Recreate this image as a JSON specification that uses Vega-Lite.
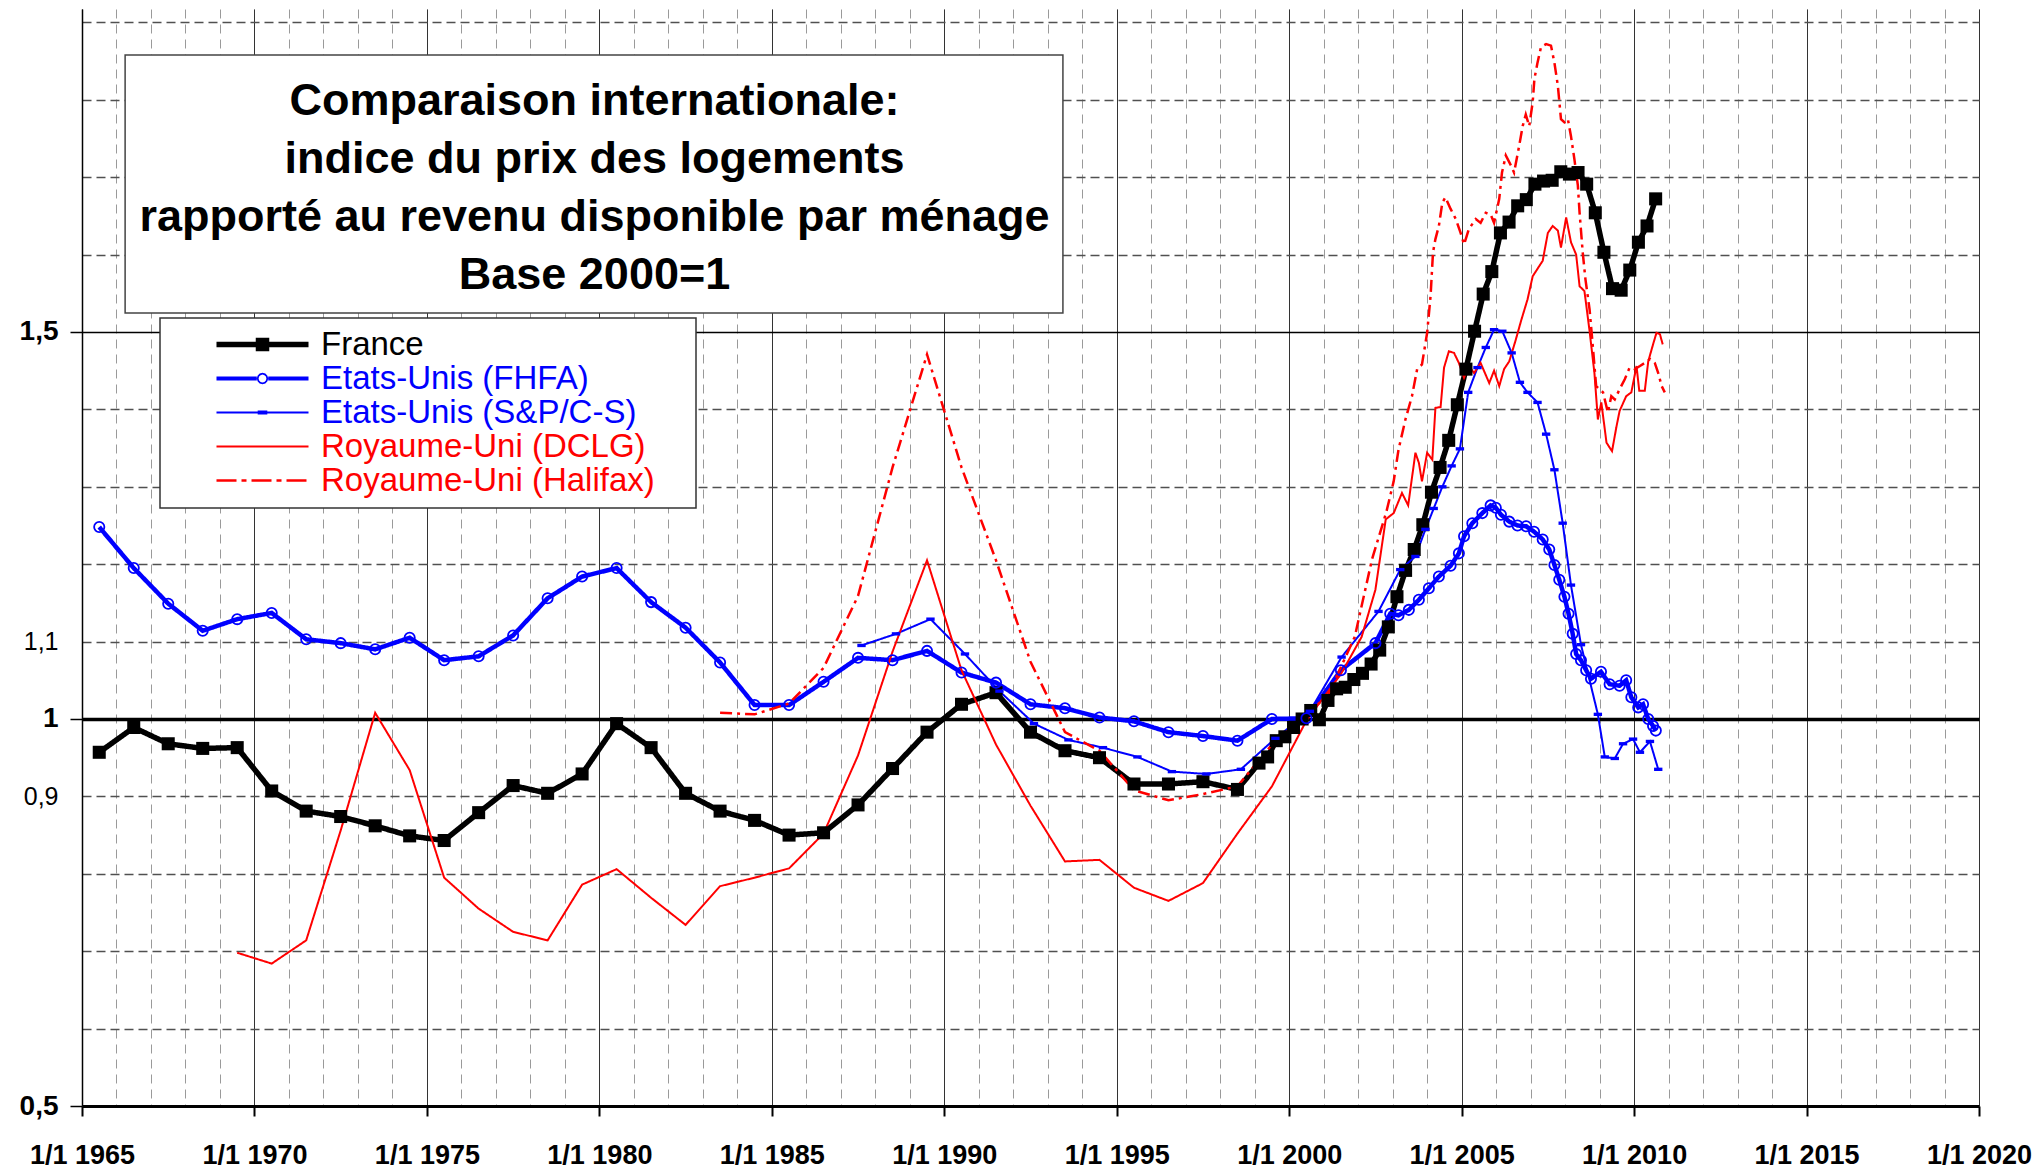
{
  "$schema": "https://vega.github.io/schema/vega-lite/v6.json",
  "width": 1897,
  "height": 1097,
  "autosize": {"type": "none"},
  "padding": {"left": 82, "top": 9, "right": 64, "bottom": 64},
  "background": "white",
  "config": {"view": {"stroke": null}, "font": "Liberation Sans"},
  "title": {
    "text": ["Comparaison internationale:", "indice du prix des logements", "rapporté au revenu disponible par ménage", "Base 2000=1"],
    "anchor": "middle", "frame": "group", "orient": "top", "offset": -289, "dx": -436,
    "fontSize": 45, "fontWeight": "bold", "font": "Liberation Sans", "lineHeight": 58, "color": "black"
  },
  "data": {"values": [
    {"s":"France","t":1965.5,"v":0.957},{"s":"France","t":1966.5,"v":0.989},{"s":"France","t":1967.5,"v":0.968},{"s":"France","t":1968.5,"v":0.962},{"s":"France","t":1969.5,"v":0.963},
    {"s":"France","t":1970.5,"v":0.907},{"s":"France","t":1971.5,"v":0.881},{"s":"France","t":1972.5,"v":0.874},{"s":"France","t":1973.5,"v":0.862},{"s":"France","t":1974.5,"v":0.849},
    {"s":"France","t":1975.5,"v":0.843},{"s":"France","t":1976.5,"v":0.879},{"s":"France","t":1977.5,"v":0.914},{"s":"France","t":1978.5,"v":0.904},{"s":"France","t":1979.5,"v":0.929},
    {"s":"France","t":1980.5,"v":0.994},{"s":"France","t":1981.5,"v":0.963},{"s":"France","t":1982.5,"v":0.904},{"s":"France","t":1983.5,"v":0.881},{"s":"France","t":1984.5,"v":0.869},
    {"s":"France","t":1985.5,"v":0.850},{"s":"France","t":1986.5,"v":0.853},{"s":"France","t":1987.5,"v":0.889},{"s":"France","t":1988.5,"v":0.936},{"s":"France","t":1989.5,"v":0.983},
    {"s":"France","t":1990.5,"v":1.019},{"s":"France","t":1991.5,"v":1.034},{"s":"France","t":1992.5,"v":0.983},{"s":"France","t":1993.5,"v":0.959},{"s":"France","t":1994.5,"v":0.950},
    {"s":"France","t":1995.5,"v":0.916},{"s":"France","t":1996.5,"v":0.916},{"s":"France","t":1997.5,"v":0.919},{"s":"France","t":1998.5,"v":0.909},
    {"s":"France","t":1999.125,"v":0.943},{"s":"France","t":1999.375,"v":0.951},{"s":"France","t":1999.625,"v":0.972},{"s":"France","t":1999.875,"v":0.977},
    {"s":"France","t":2000.125,"v":0.989},{"s":"France","t":2000.375,"v":1.000},{"s":"France","t":2000.625,"v":1.011},{"s":"France","t":2000.875,"v":0.999},
    {"s":"France","t":2001.125,"v":1.024},{"s":"France","t":2001.375,"v":1.039},{"s":"France","t":2001.625,"v":1.041},{"s":"France","t":2001.875,"v":1.051},
    {"s":"France","t":2002.125,"v":1.059},{"s":"France","t":2002.375,"v":1.071},{"s":"France","t":2002.625,"v":1.089},{"s":"France","t":2002.875,"v":1.119},
    {"s":"France","t":2003.125,"v":1.158},{"s":"France","t":2003.375,"v":1.192},{"s":"France","t":2003.625,"v":1.219},{"s":"France","t":2003.875,"v":1.251},
    {"s":"France","t":2004.125,"v":1.293},{"s":"France","t":2004.375,"v":1.325},{"s":"France","t":2004.625,"v":1.360},{"s":"France","t":2004.875,"v":1.406},
    {"s":"France","t":2005.125,"v":1.452},{"s":"France","t":2005.375,"v":1.501},{"s":"France","t":2005.625,"v":1.549},{"s":"France","t":2005.875,"v":1.578},
    {"s":"France","t":2006.125,"v":1.628},{"s":"France","t":2006.375,"v":1.642},{"s":"France","t":2006.625,"v":1.663},{"s":"France","t":2006.875,"v":1.671},
    {"s":"France","t":2007.125,"v":1.691},{"s":"France","t":2007.375,"v":1.695},{"s":"France","t":2007.625,"v":1.696},{"s":"France","t":2007.875,"v":1.707},
    {"s":"France","t":2008.125,"v":1.704},{"s":"France","t":2008.375,"v":1.706},{"s":"France","t":2008.625,"v":1.691},{"s":"France","t":2008.875,"v":1.654},
    {"s":"France","t":2009.125,"v":1.603},{"s":"France","t":2009.375,"v":1.556},{"s":"France","t":2009.625,"v":1.554},{"s":"France","t":2009.875,"v":1.580},
    {"s":"France","t":2010.125,"v":1.616},{"s":"France","t":2010.375,"v":1.637},{"s":"France","t":2010.625,"v":1.672},

    {"s":"Etats-Unis (FHFA)","t":1965.5,"v":1.248},{"s":"Etats-Unis (FHFA)","t":1966.5,"v":1.195},{"s":"Etats-Unis (FHFA)","t":1967.5,"v":1.149},{"s":"Etats-Unis (FHFA)","t":1968.5,"v":1.114},
    {"s":"Etats-Unis (FHFA)","t":1969.5,"v":1.129},{"s":"Etats-Unis (FHFA)","t":1970.5,"v":1.137},{"s":"Etats-Unis (FHFA)","t":1971.5,"v":1.103},{"s":"Etats-Unis (FHFA)","t":1972.5,"v":1.098},
    {"s":"Etats-Unis (FHFA)","t":1973.5,"v":1.090},{"s":"Etats-Unis (FHFA)","t":1974.5,"v":1.105},{"s":"Etats-Unis (FHFA)","t":1975.5,"v":1.076},{"s":"Etats-Unis (FHFA)","t":1976.5,"v":1.081},
    {"s":"Etats-Unis (FHFA)","t":1977.5,"v":1.108},{"s":"Etats-Unis (FHFA)","t":1978.5,"v":1.156},{"s":"Etats-Unis (FHFA)","t":1979.5,"v":1.184},{"s":"Etats-Unis (FHFA)","t":1980.5,"v":1.195},
    {"s":"Etats-Unis (FHFA)","t":1981.5,"v":1.151},{"s":"Etats-Unis (FHFA)","t":1982.5,"v":1.118},{"s":"Etats-Unis (FHFA)","t":1983.5,"v":1.073},{"s":"Etats-Unis (FHFA)","t":1984.5,"v":1.018},
    {"s":"Etats-Unis (FHFA)","t":1985.5,"v":1.018},{"s":"Etats-Unis (FHFA)","t":1986.5,"v":1.048},{"s":"Etats-Unis (FHFA)","t":1987.5,"v":1.079},{"s":"Etats-Unis (FHFA)","t":1988.5,"v":1.076},
    {"s":"Etats-Unis (FHFA)","t":1989.5,"v":1.088},{"s":"Etats-Unis (FHFA)","t":1990.5,"v":1.060},{"s":"Etats-Unis (FHFA)","t":1991.5,"v":1.047},{"s":"Etats-Unis (FHFA)","t":1992.5,"v":1.019},
    {"s":"Etats-Unis (FHFA)","t":1993.5,"v":1.014},{"s":"Etats-Unis (FHFA)","t":1994.5,"v":1.002},{"s":"Etats-Unis (FHFA)","t":1995.5,"v":0.997},{"s":"Etats-Unis (FHFA)","t":1996.5,"v":0.983},
    {"s":"Etats-Unis (FHFA)","t":1997.5,"v":0.978},{"s":"Etats-Unis (FHFA)","t":1998.5,"v":0.972},{"s":"Etats-Unis (FHFA)","t":1999.5,"v":1.000},{"s":"Etats-Unis (FHFA)","t":2000.5,"v":1.001},
    {"s":"Etats-Unis (FHFA)","t":2001.5,"v":1.063},{"s":"Etats-Unis (FHFA)","t":2002.5,"v":1.098},{"s":"Etats-Unis (FHFA)","t":2002.93,"v":1.136},{"s":"Etats-Unis (FHFA)","t":2003.17,"v":1.134},
    {"s":"Etats-Unis (FHFA)","t":2003.47,"v":1.141},{"s":"Etats-Unis (FHFA)","t":2003.76,"v":1.154},{"s":"Etats-Unis (FHFA)","t":2004.05,"v":1.169},{"s":"Etats-Unis (FHFA)","t":2004.34,"v":1.184},
    {"s":"Etats-Unis (FHFA)","t":2004.68,"v":1.198},{"s":"Etats-Unis (FHFA)","t":2004.92,"v":1.214},{"s":"Etats-Unis (FHFA)","t":2005.07,"v":1.236},{"s":"Etats-Unis (FHFA)","t":2005.31,"v":1.253},
    {"s":"Etats-Unis (FHFA)","t":2005.6,"v":1.266},{"s":"Etats-Unis (FHFA)","t":2005.84,"v":1.276},{"s":"Etats-Unis (FHFA)","t":2005.99,"v":1.273},{"s":"Etats-Unis (FHFA)","t":2006.14,"v":1.264},
    {"s":"Etats-Unis (FHFA)","t":2006.38,"v":1.255},{"s":"Etats-Unis (FHFA)","t":2006.62,"v":1.250},{"s":"Etats-Unis (FHFA)","t":2006.87,"v":1.249},{"s":"Etats-Unis (FHFA)","t":2007.1,"v":1.242},
    {"s":"Etats-Unis (FHFA)","t":2007.35,"v":1.232},{"s":"Etats-Unis (FHFA)","t":2007.54,"v":1.219},{"s":"Etats-Unis (FHFA)","t":2007.69,"v":1.199},{"s":"Etats-Unis (FHFA)","t":2007.83,"v":1.180},
    {"s":"Etats-Unis (FHFA)","t":2007.98,"v":1.158},{"s":"Etats-Unis (FHFA)","t":2008.1,"v":1.136},{"s":"Etats-Unis (FHFA)","t":2008.22,"v":1.110},{"s":"Etats-Unis (FHFA)","t":2008.32,"v":1.084},
    {"s":"Etats-Unis (FHFA)","t":2008.46,"v":1.076},{"s":"Etats-Unis (FHFA)","t":2008.61,"v":1.063},{"s":"Etats-Unis (FHFA)","t":2008.75,"v":1.052},{"s":"Etats-Unis (FHFA)","t":2009.04,"v":1.061},
    {"s":"Etats-Unis (FHFA)","t":2009.29,"v":1.045},{"s":"Etats-Unis (FHFA)","t":2009.58,"v":1.043},{"s":"Etats-Unis (FHFA)","t":2009.77,"v":1.050},{"s":"Etats-Unis (FHFA)","t":2009.92,"v":1.028},
    {"s":"Etats-Unis (FHFA)","t":2010.12,"v":1.015},{"s":"Etats-Unis (FHFA)","t":2010.26,"v":1.019},{"s":"Etats-Unis (FHFA)","t":2010.41,"v":1.000},{"s":"Etats-Unis (FHFA)","t":2010.55,"v":0.991},
    {"s":"Etats-Unis (FHFA)","t":2010.63,"v":0.985},

    {"s":"Etats-Unis (S&P/C-S)","t":1987.6,"v":1.095},{"s":"Etats-Unis (S&P/C-S)","t":1988.6,"v":1.110},{"s":"Etats-Unis (S&P/C-S)","t":1989.6,"v":1.129},{"s":"Etats-Unis (S&P/C-S)","t":1990.6,"v":1.084},
    {"s":"Etats-Unis (S&P/C-S)","t":1991.6,"v":1.036},{"s":"Etats-Unis (S&P/C-S)","t":1992.6,"v":0.994},{"s":"Etats-Unis (S&P/C-S)","t":1993.6,"v":0.973},{"s":"Etats-Unis (S&P/C-S)","t":1994.6,"v":0.963},
    {"s":"Etats-Unis (S&P/C-S)","t":1995.6,"v":0.951},{"s":"Etats-Unis (S&P/C-S)","t":1996.6,"v":0.932},{"s":"Etats-Unis (S&P/C-S)","t":1997.6,"v":0.929},{"s":"Etats-Unis (S&P/C-S)","t":1998.6,"v":0.935},
    {"s":"Etats-Unis (S&P/C-S)","t":1999.6,"v":0.975},{"s":"Etats-Unis (S&P/C-S)","t":2000.6,"v":1.010},{"s":"Etats-Unis (S&P/C-S)","t":2001.52,"v":1.080},{"s":"Etats-Unis (S&P/C-S)","t":2002.59,"v":1.139},
    {"s":"Etats-Unis (S&P/C-S)","t":2003.22,"v":1.193},{"s":"Etats-Unis (S&P/C-S)","t":2003.66,"v":1.210},{"s":"Etats-Unis (S&P/C-S)","t":2003.95,"v":1.245},{"s":"Etats-Unis (S&P/C-S)","t":2004.19,"v":1.272},
    {"s":"Etats-Unis (S&P/C-S)","t":2004.44,"v":1.300},{"s":"Etats-Unis (S&P/C-S)","t":2004.71,"v":1.327},{"s":"Etats-Unis (S&P/C-S)","t":2004.95,"v":1.349},{"s":"Etats-Unis (S&P/C-S)","t":2005.19,"v":1.422},
    {"s":"Etats-Unis (S&P/C-S)","t":2005.46,"v":1.454},{"s":"Etats-Unis (S&P/C-S)","t":2005.7,"v":1.480},{"s":"Etats-Unis (S&P/C-S)","t":2005.94,"v":1.503},{"s":"Etats-Unis (S&P/C-S)","t":2006.18,"v":1.501},
    {"s":"Etats-Unis (S&P/C-S)","t":2006.45,"v":1.473},{"s":"Etats-Unis (S&P/C-S)","t":2006.69,"v":1.435},{"s":"Etats-Unis (S&P/C-S)","t":2006.91,"v":1.422},{"s":"Etats-Unis (S&P/C-S)","t":2007.2,"v":1.409},
    {"s":"Etats-Unis (S&P/C-S)","t":2007.45,"v":1.368},{"s":"Etats-Unis (S&P/C-S)","t":2007.69,"v":1.322},{"s":"Etats-Unis (S&P/C-S)","t":2007.93,"v":1.253},{"s":"Etats-Unis (S&P/C-S)","t":2008.17,"v":1.173},
    {"s":"Etats-Unis (S&P/C-S)","t":2008.46,"v":1.096},{"s":"Etats-Unis (S&P/C-S)","t":2008.95,"v":1.006},{"s":"Etats-Unis (S&P/C-S)","t":2009.15,"v":0.951},{"s":"Etats-Unis (S&P/C-S)","t":2009.44,"v":0.949},
    {"s":"Etats-Unis (S&P/C-S)","t":2009.68,"v":0.968},{"s":"Etats-Unis (S&P/C-S)","t":2009.97,"v":0.974},{"s":"Etats-Unis (S&P/C-S)","t":2010.17,"v":0.957},{"s":"Etats-Unis (S&P/C-S)","t":2010.46,"v":0.971},
    {"s":"Etats-Unis (S&P/C-S)","t":2010.7,"v":0.935},

    {"s":"Royaume-Uni (DCLG)","t":1969.5,"v":0.698},{"s":"Royaume-Uni (DCLG)","t":1970.5,"v":0.684},{"s":"Royaume-Uni (DCLG)","t":1971.5,"v":0.714},{"s":"Royaume-Uni (DCLG)","t":1972.5,"v":0.856},
    {"s":"Royaume-Uni (DCLG)","t":1973.5,"v":1.008},{"s":"Royaume-Uni (DCLG)","t":1974.5,"v":0.934},{"s":"Royaume-Uni (DCLG)","t":1975.5,"v":0.795},{"s":"Royaume-Uni (DCLG)","t":1976.5,"v":0.755},
    {"s":"Royaume-Uni (DCLG)","t":1977.5,"v":0.725},{"s":"Royaume-Uni (DCLG)","t":1978.5,"v":0.714},{"s":"Royaume-Uni (DCLG)","t":1979.5,"v":0.786},{"s":"Royaume-Uni (DCLG)","t":1980.5,"v":0.806},
    {"s":"Royaume-Uni (DCLG)","t":1981.5,"v":0.769},{"s":"Royaume-Uni (DCLG)","t":1982.5,"v":0.734},{"s":"Royaume-Uni (DCLG)","t":1983.5,"v":0.784},{"s":"Royaume-Uni (DCLG)","t":1984.5,"v":0.795},
    {"s":"Royaume-Uni (DCLG)","t":1985.5,"v":0.807},{"s":"Royaume-Uni (DCLG)","t":1986.5,"v":0.852},{"s":"Royaume-Uni (DCLG)","t":1987.5,"v":0.953},{"s":"Royaume-Uni (DCLG)","t":1988.5,"v":1.087},
    {"s":"Royaume-Uni (DCLG)","t":1989.5,"v":1.205},{"s":"Royaume-Uni (DCLG)","t":1990.5,"v":1.063},{"s":"Royaume-Uni (DCLG)","t":1991.5,"v":0.967},{"s":"Royaume-Uni (DCLG)","t":1992.5,"v":0.888},
    {"s":"Royaume-Uni (DCLG)","t":1993.5,"v":0.816},{"s":"Royaume-Uni (DCLG)","t":1994.5,"v":0.818},{"s":"Royaume-Uni (DCLG)","t":1995.5,"v":0.782},{"s":"Royaume-Uni (DCLG)","t":1996.5,"v":0.765},
    {"s":"Royaume-Uni (DCLG)","t":1997.5,"v":0.788},{"s":"Royaume-Uni (DCLG)","t":1998.5,"v":0.852},{"s":"Royaume-Uni (DCLG)","t":1999.5,"v":0.913},{"s":"Royaume-Uni (DCLG)","t":2000.5,"v":0.998},
    {"s":"Royaume-Uni (DCLG)","t":2001.5,"v":1.058},{"s":"Royaume-Uni (DCLG)","t":2002.1,"v":1.106},{"s":"Royaume-Uni (DCLG)","t":2002.5,"v":1.167},{"s":"Royaume-Uni (DCLG)","t":2002.8,"v":1.258},
    {"s":"Royaume-Uni (DCLG)","t":2003.03,"v":1.266},{"s":"Royaume-Uni (DCLG)","t":2003.27,"v":1.292},{"s":"Royaume-Uni (DCLG)","t":2003.45,"v":1.276},{"s":"Royaume-Uni (DCLG)","t":2003.66,"v":1.344},
    {"s":"Royaume-Uni (DCLG)","t":2003.76,"v":1.331},{"s":"Royaume-Uni (DCLG)","t":2003.85,"v":1.307},{"s":"Royaume-Uni (DCLG)","t":2004.0,"v":1.344},{"s":"Royaume-Uni (DCLG)","t":2004.15,"v":1.335},
    {"s":"Royaume-Uni (DCLG)","t":2004.24,"v":1.402},{"s":"Royaume-Uni (DCLG)","t":2004.39,"v":1.403},{"s":"Royaume-Uni (DCLG)","t":2004.49,"v":1.454},{"s":"Royaume-Uni (DCLG)","t":2004.63,"v":1.475},
    {"s":"Royaume-Uni (DCLG)","t":2004.78,"v":1.473},{"s":"Royaume-Uni (DCLG)","t":2004.92,"v":1.460},{"s":"Royaume-Uni (DCLG)","t":2005.07,"v":1.441},{"s":"Royaume-Uni (DCLG)","t":2005.21,"v":1.456},
    {"s":"Royaume-Uni (DCLG)","t":2005.36,"v":1.447},{"s":"Royaume-Uni (DCLG)","t":2005.55,"v":1.460},{"s":"Royaume-Uni (DCLG)","t":2005.8,"v":1.434},{"s":"Royaume-Uni (DCLG)","t":2005.94,"v":1.450},
    {"s":"Royaume-Uni (DCLG)","t":2006.09,"v":1.430},{"s":"Royaume-Uni (DCLG)","t":2006.23,"v":1.452},{"s":"Royaume-Uni (DCLG)","t":2006.38,"v":1.462},{"s":"Royaume-Uni (DCLG)","t":2006.57,"v":1.490},
    {"s":"Royaume-Uni (DCLG)","t":2006.72,"v":1.514},{"s":"Royaume-Uni (DCLG)","t":2006.91,"v":1.542},{"s":"Royaume-Uni (DCLG)","t":2007.06,"v":1.572},{"s":"Royaume-Uni (DCLG)","t":2007.35,"v":1.592},
    {"s":"Royaume-Uni (DCLG)","t":2007.5,"v":1.628},{"s":"Royaume-Uni (DCLG)","t":2007.64,"v":1.637},{"s":"Royaume-Uni (DCLG)","t":2007.79,"v":1.631},{"s":"Royaume-Uni (DCLG)","t":2007.88,"v":1.609},
    {"s":"Royaume-Uni (DCLG)","t":2008.03,"v":1.648},{"s":"Royaume-Uni (DCLG)","t":2008.17,"v":1.616},{"s":"Royaume-Uni (DCLG)","t":2008.32,"v":1.600},{"s":"Royaume-Uni (DCLG)","t":2008.42,"v":1.559},
    {"s":"Royaume-Uni (DCLG)","t":2008.56,"v":1.553},{"s":"Royaume-Uni (DCLG)","t":2008.71,"v":1.501},{"s":"Royaume-Uni (DCLG)","t":2008.85,"v":1.447},{"s":"Royaume-Uni (DCLG)","t":2008.95,"v":1.387},
    {"s":"Royaume-Uni (DCLG)","t":2009.05,"v":1.409},{"s":"Royaume-Uni (DCLG)","t":2009.2,"v":1.357},{"s":"Royaume-Uni (DCLG)","t":2009.36,"v":1.346},{"s":"Royaume-Uni (DCLG)","t":2009.49,"v":1.378},
    {"s":"Royaume-Uni (DCLG)","t":2009.58,"v":1.398},{"s":"Royaume-Uni (DCLG)","t":2009.77,"v":1.417},{"s":"Royaume-Uni (DCLG)","t":2009.92,"v":1.422},{"s":"Royaume-Uni (DCLG)","t":2010.07,"v":1.456},
    {"s":"Royaume-Uni (DCLG)","t":2010.15,"v":1.424},{"s":"Royaume-Uni (DCLG)","t":2010.31,"v":1.424},{"s":"Royaume-Uni (DCLG)","t":2010.41,"v":1.462},{"s":"Royaume-Uni (DCLG)","t":2010.55,"v":1.484},
    {"s":"Royaume-Uni (DCLG)","t":2010.65,"v":1.499},{"s":"Royaume-Uni (DCLG)","t":2010.75,"v":1.497},{"s":"Royaume-Uni (DCLG)","t":2010.83,"v":1.484},

    {"s":"Royaume-Uni (Halifax)","t":1983.5,"v":1.008},{"s":"Royaume-Uni (Halifax)","t":1984.5,"v":1.006},{"s":"Royaume-Uni (Halifax)","t":1985.5,"v":1.020},{"s":"Royaume-Uni (Halifax)","t":1986.5,"v":1.066},
    {"s":"Royaume-Uni (Halifax)","t":1987.5,"v":1.159},{"s":"Royaume-Uni (Halifax)","t":1988.5,"v":1.325},{"s":"Royaume-Uni (Halifax)","t":1989.5,"v":1.471},{"s":"Royaume-Uni (Halifax)","t":1990.5,"v":1.325},
    {"s":"Royaume-Uni (Halifax)","t":1991.5,"v":1.205},{"s":"Royaume-Uni (Halifax)","t":1992.5,"v":1.074},{"s":"Royaume-Uni (Halifax)","t":1993.5,"v":0.983},{"s":"Royaume-Uni (Halifax)","t":1994.5,"v":0.959},
    {"s":"Royaume-Uni (Halifax)","t":1995.5,"v":0.908},{"s":"Royaume-Uni (Halifax)","t":1996.5,"v":0.895},{"s":"Royaume-Uni (Halifax)","t":1997.5,"v":0.903},{"s":"Royaume-Uni (Halifax)","t":1998.5,"v":0.913},
    {"s":"Royaume-Uni (Halifax)","t":1999.5,"v":0.967},{"s":"Royaume-Uni (Halifax)","t":2000.5,"v":1.005},{"s":"Royaume-Uni (Halifax)","t":2001.14,"v":1.032},{"s":"Royaume-Uni (Halifax)","t":2001.9,"v":1.106},
    {"s":"Royaume-Uni (Halifax)","t":2002.4,"v":1.206},{"s":"Royaume-Uni (Halifax)","t":2002.82,"v":1.268},{"s":"Royaume-Uni (Halifax)","t":2003.03,"v":1.307},{"s":"Royaume-Uni (Halifax)","t":2003.17,"v":1.348},
    {"s":"Royaume-Uni (Halifax)","t":2003.37,"v":1.387},{"s":"Royaume-Uni (Halifax)","t":2003.56,"v":1.417},{"s":"Royaume-Uni (Halifax)","t":2003.71,"v":1.452},{"s":"Royaume-Uni (Halifax)","t":2003.85,"v":1.458},
    {"s":"Royaume-Uni (Halifax)","t":2004.0,"v":1.499},{"s":"Royaume-Uni (Halifax)","t":2004.1,"v":1.547},{"s":"Royaume-Uni (Halifax)","t":2004.17,"v":1.603},{"s":"Royaume-Uni (Halifax)","t":2004.24,"v":1.620},
    {"s":"Royaume-Uni (Halifax)","t":2004.34,"v":1.637},{"s":"Royaume-Uni (Halifax)","t":2004.44,"v":1.667},{"s":"Royaume-Uni (Halifax)","t":2004.53,"v":1.674},{"s":"Royaume-Uni (Halifax)","t":2004.68,"v":1.659},
    {"s":"Royaume-Uni (Halifax)","t":2004.83,"v":1.646},{"s":"Royaume-Uni (Halifax)","t":2004.97,"v":1.628},{"s":"Royaume-Uni (Halifax)","t":2005.07,"v":1.613},{"s":"Royaume-Uni (Halifax)","t":2005.21,"v":1.633},
    {"s":"Royaume-Uni (Halifax)","t":2005.41,"v":1.646},{"s":"Royaume-Uni (Halifax)","t":2005.55,"v":1.641},{"s":"Royaume-Uni (Halifax)","t":2005.7,"v":1.654},{"s":"Royaume-Uni (Halifax)","t":2005.84,"v":1.652},
    {"s":"Royaume-Uni (Halifax)","t":2005.94,"v":1.641},{"s":"Royaume-Uni (Halifax)","t":2006.09,"v":1.672},{"s":"Royaume-Uni (Halifax)","t":2006.17,"v":1.706},{"s":"Royaume-Uni (Halifax)","t":2006.28,"v":1.728},
    {"s":"Royaume-Uni (Halifax)","t":2006.43,"v":1.715},{"s":"Royaume-Uni (Halifax)","t":2006.52,"v":1.706},{"s":"Royaume-Uni (Halifax)","t":2006.67,"v":1.741},{"s":"Royaume-Uni (Halifax)","t":2006.77,"v":1.766},
    {"s":"Royaume-Uni (Halifax)","t":2006.86,"v":1.781},{"s":"Royaume-Uni (Halifax)","t":2006.96,"v":1.766},{"s":"Royaume-Uni (Halifax)","t":2007.06,"v":1.797},{"s":"Royaume-Uni (Halifax)","t":2007.11,"v":1.827},
    {"s":"Royaume-Uni (Halifax)","t":2007.2,"v":1.848},{"s":"Royaume-Uni (Halifax)","t":2007.3,"v":1.868},{"s":"Royaume-Uni (Halifax)","t":2007.45,"v":1.872},{"s":"Royaume-Uni (Halifax)","t":2007.59,"v":1.870},
    {"s":"Royaume-Uni (Halifax)","t":2007.69,"v":1.848},{"s":"Royaume-Uni (Halifax)","t":2007.79,"v":1.818},{"s":"Royaume-Uni (Halifax)","t":2007.88,"v":1.775},{"s":"Royaume-Uni (Halifax)","t":2007.98,"v":1.771},
    {"s":"Royaume-Uni (Halifax)","t":2008.08,"v":1.775},{"s":"Royaume-Uni (Halifax)","t":2008.17,"v":1.753},{"s":"Royaume-Uni (Halifax)","t":2008.27,"v":1.723},{"s":"Royaume-Uni (Halifax)","t":2008.37,"v":1.689},
    {"s":"Royaume-Uni (Halifax)","t":2008.42,"v":1.654},{"s":"Royaume-Uni (Halifax)","t":2008.51,"v":1.603},{"s":"Royaume-Uni (Halifax)","t":2008.59,"v":1.568},{"s":"Royaume-Uni (Halifax)","t":2008.71,"v":1.529},
    {"s":"Royaume-Uni (Halifax)","t":2008.81,"v":1.478},{"s":"Royaume-Uni (Halifax)","t":2008.9,"v":1.430},{"s":"Royaume-Uni (Halifax)","t":2009.1,"v":1.422},{"s":"Royaume-Uni (Halifax)","t":2009.24,"v":1.396},
    {"s":"Royaume-Uni (Halifax)","t":2009.34,"v":1.417},{"s":"Royaume-Uni (Halifax)","t":2009.44,"v":1.413},{"s":"Royaume-Uni (Halifax)","t":2009.58,"v":1.426},{"s":"Royaume-Uni (Halifax)","t":2009.73,"v":1.439},
    {"s":"Royaume-Uni (Halifax)","t":2009.87,"v":1.454},{"s":"Royaume-Uni (Halifax)","t":2010.02,"v":1.452},{"s":"Royaume-Uni (Halifax)","t":2010.17,"v":1.456},{"s":"Royaume-Uni (Halifax)","t":2010.31,"v":1.460},
    {"s":"Royaume-Uni (Halifax)","t":2010.46,"v":1.465},{"s":"Royaume-Uni (Halifax)","t":2010.6,"v":1.460},{"s":"Royaume-Uni (Halifax)","t":2010.7,"v":1.447},{"s":"Royaume-Uni (Halifax)","t":2010.8,"v":1.430},
    {"s":"Royaume-Uni (Halifax)","t":2010.89,"v":1.422}
  ]},
  "layer": [
    {
      "data": {"values": [{}]},
      "mark": {"type": "rect", "fill": "white", "stroke": "#444444", "strokeWidth": 1.5},
      "encoding": {
        "x": {"datum": 1966.25, "type": "quantitative",
              "scale": {"domain": [1965, 2020], "nice": false, "zero": false},
              "axis": {"orient": "bottom", "values": [1965,1966,1967,1968,1969,1970,1971,1972,1973,1974,1975,1976,1977,1978,1979,1980,1981,1982,1983,1984,1985,1986,1987,1988,1989,1990,1991,1992,1993,1994,1995,1996,1997,1998,1999,2000,2001,2002,2003,2004,2005,2006,2007,2008,2009,2010,2011,2012,2013,2014,2015,2016,2017,2018,2019,2020],
                       "grid": true, "gridColor": "#9a9a9a", "gridDash": [9, 6], "gridWidth": 1,
                       "labels": false, "ticks": false, "domain": false, "title": null}},
        "x2": {"datum": 1993.44},
        "y": {"datum": 1.858, "type": "quantitative",
              "scale": {"domain": [0.5, 1.9173], "nice": false, "zero": false},
              "axis": {"orient": "left", "values": [0.6,0.7,0.8,0.9,1,1.1,1.2,1.3,1.4,1.5,1.6,1.7,1.8,1.9],
                       "grid": true,
                       "gridColor": {"condition": {"test": "datum.value == 1 || datum.value == 1.5", "value": "black"}, "value": "#505050"},
                       "gridDash": {"condition": {"test": "datum.value == 1 || datum.value == 1.5", "value": []}, "value": [9, 5]},
                       "gridWidth": {"condition": {"test": "datum.value == 1", "value": 3.5}, "value": 1.3},
                       "labels": false, "ticks": false, "domain": false, "title": null}},
        "y2": {"datum": 1.5245}
      }
    },
    {
      "mark": {"type": "line"},
      "encoding": {
        "x": {"field": "t", "type": "quantitative",
              "scale": {"domain": [1965, 2020], "nice": false, "zero": false},
              "axis": {"orient": "bottom", "values": [1965,1970,1975,1980,1985,1990,1995,2000,2005,2010,2015,2020],
                       "grid": true, "gridColor": "#333333", "gridWidth": 1,
                       "labelExpr": "'1/1 ' + datum.value", "labelFontSize": 27, "labelFontWeight": "bold", "labelFont": "Liberation Sans", "labelColor": "black",
                       "labelFlush": false, "labelOverlap": false, "labelPadding": 26,
                       "tickSize": 10, "tickColor": "black", "tickWidth": 2,
                       "domainColor": "black", "domainWidth": 3, "title": null}},
        "y": {"field": "v", "type": "quantitative",
              "scale": {"domain": [0.5, 1.9173], "nice": false, "zero": false},
              "axis": {"orient": "left", "values": [0.5, 0.9, 1, 1.1, 1.5], "grid": false,
                       "labelExpr": "replace(format(datum.value, '.2~f'), '.', ',')",
                       "labelFont": "Liberation Sans", "labelColor": "black",
                       "labelFontSize": {"condition": {"test": "datum.value == 0.9 || datum.value == 1.1", "value": 25}, "value": 28},
                       "labelFontWeight": {"condition": {"test": "datum.value == 0.9 || datum.value == 1.1", "value": "normal"}, "value": "bold"},
                       "tickOpacity": {"condition": {"test": "datum.value == 0.9 || datum.value == 1.1", "value": 0}, "value": 1},
                       "tickSize": 12, "tickColor": "black", "tickWidth": 1.5, "labelPadding": 12,
                       "domainColor": "black", "domainWidth": 1.5, "title": null}},
        "color": {"field": "s", "type": "nominal",
                  "scale": {"domain": ["France", "Etats-Unis (FHFA)", "Etats-Unis (S&P/C-S)", "Royaume-Uni (DCLG)", "Royaume-Uni (Halifax)"],
                            "range": ["#000000", "#0000FF", "#0000FF", "#FF0000", "#FF0000"]},
                  "legend": {
                    "orient": "none", "legendX": 78, "legendY": 309, "title": null,
                    "padding": 10, "strokeColor": "#333333", "fillColor": "white",
                    "symbolSize": 900, "symbolOffset": 76, "labelOffset": 42, "rowPadding": -2,
                    "labelFontSize": 33, "labelFont": "Liberation Sans", "labelLimit": 0,
                    "labelExpr": "datum.label + '\u2009\u2800'",
                    "encode": {
                      "legend": {"update": {"strokeWidth": {"value": 1.5}}},
                      "symbols": {"update": {
                        "shape": {"signal": "datum.value == 'France' ? 'M-3.067,-0.18H3.067V0.18H-3.067Z M-0.45,-0.45H0.45V0.45H-0.45Z' : datum.value == 'Etats-Unis (FHFA)' ? 'M-3.067,-0.14H-0.38V0.14H-3.067Z M0.38,-0.14H3.067V0.14H0.38Z M0.38,0L0.329,0.19L0.19,0.329L0,0.38L-0.19,0.329L-0.329,0.19L-0.38,0L-0.329,-0.19L-0.19,-0.329L0,-0.38L0.19,-0.329L0.329,-0.19Z M0.26,0L0.225,-0.13L0.13,-0.225L0,-0.26L-0.13,-0.225L-0.225,-0.13L-0.26,0L-0.225,0.13L-0.13,0.225L0,0.26L0.13,0.225L0.225,0.13Z' : datum.value == 'Etats-Unis (S&P/C-S)' ? 'M-3.067,-0.07H3.067V0.07H-3.067Z M-0.32,-0.14H0.32V0.14H-0.32Z' : datum.value == 'Royaume-Uni (DCLG)' ? 'M-3.067,-0.07H3.067V0.07H-3.067Z' : 'M-3.067,-0.085H-1.733V0.085H-3.067Z M-1.4,-0.085H-1.067V0.085H-1.4Z M-0.733,-0.085H0.6V0.085H-0.733Z M0.933,-0.085H1.267V0.085H0.933Z M1.6,-0.085H2.933V0.085H1.6Z'"},
                        "fill": {"scale": "color", "field": "value"},
                        "stroke": {"value": "transparent"},
                        "strokeWidth": {"value": 0},
                        "size": {"value": 900},
                        "opacity": {"value": 1}
                      }},
                      "labels": {"update": {"fill": {"scale": "color", "field": "value"}}}
                    }
                  }},
        "strokeWidth": {"condition": [
                          {"test": "datum.s == 'France'", "value": 5.5},
                          {"test": "datum.s == 'Etats-Unis (FHFA)'", "value": 4.5},
                          {"test": "datum.s == 'Royaume-Uni (Halifax)'", "value": 2.5}
                        ], "value": 2},
        "strokeDash": {"condition": {"test": "datum.s == 'Royaume-Uni (Halifax)'", "value": [12, 5, 3, 5]}, "value": [1, 0]}
      }
    },
    {
      "transform": [{"filter": "datum.s == 'France'"}],
      "mark": {"type": "point", "shape": "square", "filled": true, "color": "black", "size": 170, "opacity": 1},
      "encoding": {
        "x": {"field": "t", "type": "quantitative", "scale": {"domain": [1965, 2020], "nice": false, "zero": false}, "axis": null},
        "y": {"field": "v", "type": "quantitative", "scale": {"domain": [0.5, 1.9173], "nice": false, "zero": false}, "axis": null}
      }
    },
    {
      "transform": [{"filter": "datum.s == 'Etats-Unis (FHFA)'"}],
      "mark": {"type": "point", "shape": "circle", "filled": false, "stroke": "#0000FF", "strokeWidth": 1.8, "size": 105, "opacity": 1},
      "encoding": {
        "x": {"field": "t", "type": "quantitative", "scale": {"domain": [1965, 2020], "nice": false, "zero": false}, "axis": null},
        "y": {"field": "v", "type": "quantitative", "scale": {"domain": [0.5, 1.9173], "nice": false, "zero": false}, "axis": null}
      }
    },
    {
      "transform": [{"filter": "datum.s == 'Etats-Unis (S&P/C-S)'"}],
      "mark": {"type": "point", "shape": "M-1,-0.4H1V0.4H-1Z", "filled": true, "color": "#0000FF", "size": 70, "opacity": 1},
      "encoding": {
        "x": {"field": "t", "type": "quantitative", "scale": {"domain": [1965, 2020], "nice": false, "zero": false}, "axis": null},
        "y": {"field": "v", "type": "quantitative", "scale": {"domain": [0.5, 1.9173], "nice": false, "zero": false}, "axis": null}
      }
    }
  ],
  "resolve": {"axis": {"x": "independent", "y": "independent"}}
}
